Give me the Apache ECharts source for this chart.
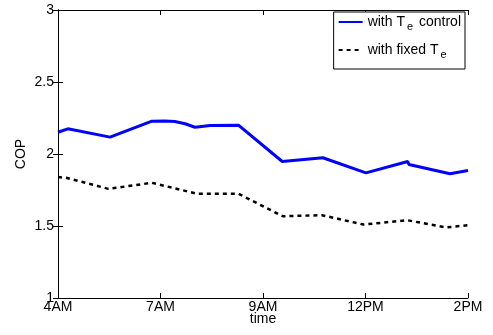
<!DOCTYPE html>
<html>
<head>
<meta charset="utf-8">
<script src="https://cdn.jsdelivr.net/npm/echarts@6/dist/echarts.min.js"></script>
<style>
  html, body { margin: 0; padding: 0; background: #fff; }
  #chart { width: 493px; height: 335px; }
</style>
</head>
<body>
<div id="chart"></div>
<script>
  // x = hours along the axis, 0 = 4AM ... 10 = 2PM (ticks are evenly spaced)
  var xTicks = ['4AM', '7AM', '9AM', '12PM', '2PM'];

  var timeCtrl = [0, 0.24, 1.27, 2.29, 2.6, 2.85, 3.1, 3.34, 3.71, 4.4, 5.47, 6.46, 7.51, 8.53, 8.56, 9.56, 10];
  var copCtrl = [2.151, 2.175, 2.117, 2.228, 2.23, 2.226, 2.21, 2.186, 2.198, 2.2, 1.948, 1.974, 1.869, 1.948, 1.927, 1.863, 1.885];

  var timeFixed = [0, 0.2, 1.23, 2.29, 3.39, 4.4, 5.48, 6.44, 7.45, 8.52, 9.46, 10];
  var copFixed = [1.84, 1.835, 1.758, 1.8, 1.724, 1.724, 1.568, 1.575, 1.51, 1.54, 1.49, 1.505];

  function pairs(xs, ys) {
    var out = [];
    for (var i = 0; i < xs.length; i++) out.push([xs[i], ys[i]]);
    return out;
  }

  var font = 'Liberation Sans, Arial, sans-serif';
  var myChart = echarts.init(document.getElementById('chart'));
  myChart.setOption({
    animation: false,
    backgroundColor: '#fff',
    textStyle: { fontFamily: font },
    grid: { left: 58, right: 25, top: 10, bottom: 37 },
    legend: {
      orient: 'vertical',
      right: 28,
      top: 12,
      padding: [0, 4, 9, 4],
      itemGap: 8,
      itemWidth: 24,
      itemHeight: 12,
      borderColor: '#000',
      borderWidth: 1,
      backgroundColor: '#fff',
      itemStyle: { opacity: 0 },
      textStyle: {
        fontFamily: font,
        fontSize: 14,
        color: '#000',
        lineHeight: 20,
        rich: {
          n: { fontFamily: font, fontSize: 14, color: '#000', lineHeight: 20, verticalAlign: 'middle' },
          s: { fontFamily: font, fontSize: 11, color: '#000', lineHeight: 6, verticalAlign: 'bottom', padding: [0, 2, 0, 2] }
        }
      },
      formatter: function (name) {
        if (name === 'ctrl') return '{n|with T}{s|e}{n| control}';
        return '{n|with fixed T}{s|e}';
      },
      data: ['ctrl', 'fixed']
    },
    xAxis: [{
      type: 'value',
      min: 0,
      max: 10,
      interval: 2.5,
      name: 'time',
      nameLocation: 'middle',
      nameGap: 14,
      nameMoveOverlap: false,
      nameTextStyle: { fontSize: 14, color: '#000' },
      axisLine: { lineStyle: { color: '#000', width: 1 } },
      axisTick: { inside: true, length: 5, lineStyle: { color: '#000' } },
      axisLabel: {
        margin: 2,
        fontSize: 14,
        color: '#000',
        formatter: function (v) { return xTicks[Math.round(v / 2.5)]; }
      },
      splitLine: { show: false }
    }, {
      type: 'value',
      position: 'top',
      min: 0,
      max: 10,
      interval: 2.5,
      axisLine: { lineStyle: { color: '#000', width: 1 } },
      axisTick: { inside: true, length: 5, lineStyle: { color: '#000' } },
      axisLabel: { show: false },
      splitLine: { show: false }
    }],
    yAxis: [{
      type: 'value',
      min: 1,
      max: 3,
      interval: 0.5,
      name: 'COP',
      nameLocation: 'middle',
      nameGap: 30,
      nameMoveOverlap: false,
      nameTextStyle: { fontSize: 14, color: '#000' },
      axisLine: { show: true, lineStyle: { color: '#000', width: 1 } },
      axisTick: { show: true, inside: true, length: 5, lineStyle: { color: '#000' } },
      axisLabel: { margin: 4, fontSize: 14, color: '#000' },
      splitLine: { show: false }
    }, {
      type: 'value',
      position: 'right',
      min: 1,
      max: 3,
      interval: 0.5,
      axisLine: { show: true, lineStyle: { color: '#000', width: 1 } },
      axisTick: { show: true, inside: true, length: 5, lineStyle: { color: '#000' } },
      axisLabel: { show: false },
      splitLine: { show: false }
    }],
    series: [{
      name: 'ctrl',
      type: 'line',
      symbol: 'none',
      data: pairs(timeCtrl, copCtrl),
      lineStyle: { color: '#0000ff', width: 3 },
      itemStyle: { color: '#0000ff' }
    }, {
      name: 'fixed',
      type: 'line',
      symbol: 'none',
      data: pairs(timeFixed, copFixed),
      lineStyle: { color: '#000', width: 2.5, type: [4, 4] },
      itemStyle: { color: '#000' }
    }]
  });
</script>
</body>
</html>
